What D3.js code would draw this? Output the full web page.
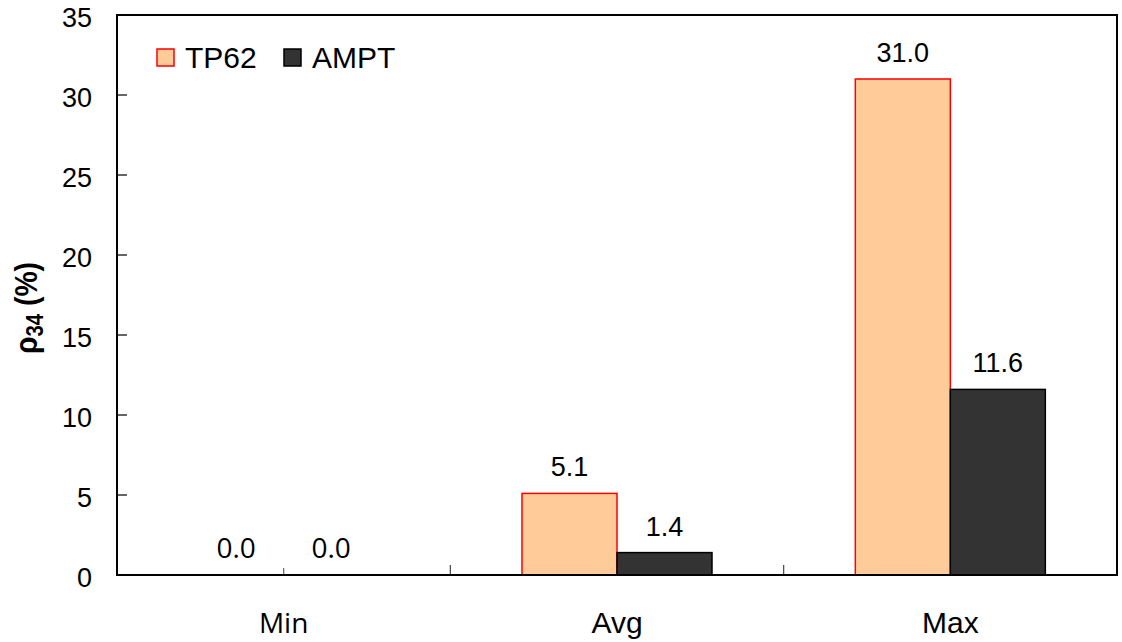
<!DOCTYPE html>
<html>
<head>
<meta charset="utf-8">
<script src="https://cdn.jsdelivr.net/npm/d3@7/dist/d3.min.js"></script>
<style>
  html, body { margin: 0; padding: 0; background: #fff; }
  svg { display: block; }
</style>
</head>
<body>
<svg id="chart" width="1122" height="642"></svg>
<script>
const categories = ["Min", "Avg", "Max"];
const seriesNames = ["TP62", "AMPT"];
const tp62 = [0.0, 5.1, 31.0];
const ampt = [0.0, 1.4, 11.6];
const yTicks = [0, 5, 10, 15, 20, 25, 30, 35];

const fills = { TP62: "#FFCC99", AMPT: "#333333" };
const strokes = { TP62: "#FF0000", AMPT: "#000000" };

const svg = d3.select("#chart");
const L = 117, R = 1117, T = 15, B = 575;

const x = d3.scaleBand().domain(categories).range([L, R]).paddingInner(0).paddingOuter(0);
const y = d3.scaleLinear().domain([0, 35]).range([B, T]);
const barW = 95;
const xs = d3.scaleBand().domain(seriesNames).range([0, 2 * barW]);

const rows = [];
categories.forEach((c, i) => {
  rows.push({ cat: c, s: "TP62", v: tp62[i] });
  rows.push({ cat: c, s: "AMPT", v: ampt[i] });
});
const bx = d => x(d.cat) + x.bandwidth() / 2 - barW + xs(d.s);

// x-axis ticks (under bars)
const xTickPos = [];
categories.forEach((c, i) => {
  xTickPos.push({ p: x(c) + x.bandwidth() / 2, len: 7, col: "#666" });
  if (i > 0) xTickPos.push({ p: x(c), len: 10, col: "#444" });
});
svg.append("g").selectAll("line").data(xTickPos).join("line")
  .attr("x1", d => d.p).attr("x2", d => d.p)
  .attr("y1", B).attr("y2", d => B - d.len)
  .attr("stroke", d => d.col).attr("stroke-width", 1.2);

// bars
svg.append("g").selectAll("rect").data(rows.filter(d => d.v > 0)).join("rect")
  .attr("x", bx)
  .attr("y", d => y(d.v))
  .attr("width", xs.bandwidth())
  .attr("height", d => y(0) - y(d.v))
  .attr("fill", d => fills[d.s])
  .attr("stroke", d => strokes[d.s])
  .attr("stroke-width", 1.5);

// value labels
svg.append("g").selectAll("text").data(rows).join("text")
  .attr("x", d => bx(d) + xs.bandwidth() / 2)
  .attr("y", d => y(d.v) - 17)
  .attr("text-anchor", "middle")
  .attr("font-family", d => d.cat === "Min" ? "'Open Sans', sans-serif" : "'Liberation Sans', Arial, sans-serif")
  .attr("font-size", d => d.cat === "Min" ? 28 : 27)
  .attr("fill", "#000")
  .text(d => d.v.toFixed(1));

// y ticks (inward)
svg.append("g").selectAll("line").data(yTicks.filter(t => t > 0 && t < 35)).join("line")
  .attr("x1", L).attr("x2", L + 10)
  .attr("y1", d => y(d)).attr("y2", d => y(d))
  .attr("stroke", "#000").attr("stroke-width", 1.2);

svg.append("g").selectAll("text").data(yTicks).join("text")
  .attr("x", L - 25)
  .attr("y", d => y(d) + 12)
  .attr("text-anchor", "end")
  .attr("font-family", "'Liberation Sans', Arial, sans-serif")
  .attr("font-size", 27)
  .attr("fill", "#000")
  .text(d => d);

// frame
svg.append("rect")
  .attr("x", L).attr("y", T).attr("width", R - L).attr("height", B - T)
  .attr("fill", "none").attr("stroke", "#000").attr("stroke-width", 2);

// category labels
svg.append("g").selectAll("text").data(categories).join("text")
  .attr("x", d => x(d) + x.bandwidth() / 2)
  .attr("y", 633)
  .attr("text-anchor", "middle")
  .attr("font-family", d => d === "Min" ? "'Open Sans', sans-serif" : "'Liberation Sans', Arial, sans-serif")
  .attr("font-size", d => d === "Min" ? 28 : 30)
  .attr("fill", "#000")
  .text(d => d);

// y-axis title
const yt = svg.append("text")
  .attr("transform", "translate(37,308) rotate(-90)")
  .attr("text-anchor", "middle")
  .attr("font-family", "'Liberation Sans', Arial, sans-serif")
  .attr("font-weight", "bold")
  .attr("font-size", 32)
  .attr("textLength", 92)
  .attr("lengthAdjust", "spacingAndGlyphs")
  .attr("fill", "#000");
yt.append("tspan").text("ρ");
yt.append("tspan").attr("font-size", 23).attr("dy", 6).text("34");
yt.append("tspan").attr("dy", -6).text(" (%)");

// legend
const legX = [157, 284];
const leg = svg.append("g").selectAll("g").data(seriesNames).join("g")
  .attr("transform", (d, i) => `translate(${legX[i]},49)`);
leg.append("rect")
  .attr("width", 17).attr("height", 17)
  .attr("fill", d => fills[d]).attr("stroke", d => strokes[d]).attr("stroke-width", 1.5);
leg.append("text")
  .attr("x", 28).attr("y", 19)
  .attr("font-family", "'Liberation Sans', Arial, sans-serif")
  .attr("font-size", 30)
  .attr("fill", "#000")
  .text(d => d);
</script>
</body>
</html>
